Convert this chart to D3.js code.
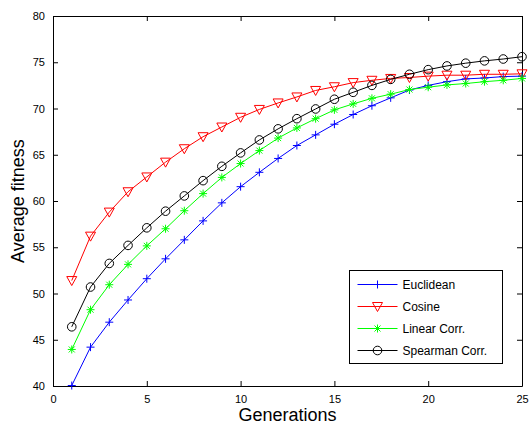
<!DOCTYPE html>
<html>
<head>
<meta charset="utf-8">
<script src="https://cdnjs.cloudflare.com/ajax/libs/d3/7.8.5/d3.min.js"></script>
<style>
  body { margin: 0; background: #fff; }
  text { font-family: "Liberation Sans", Arial, sans-serif; fill: #000; }
</style>
</head>
<body>
<div id="chart-area"></div>
<script>
// data
var generations = d3.range(1, 26);
var euclidean = [40.05, 44.2, 46.9, 49.3, 51.6, 53.75, 55.8, 57.85, 59.8, 61.55, 63.1, 64.6, 66.0, 67.15,
	68.3, 69.35, 70.3, 71.15, 72.0, 72.5, 72.9, 73.2, 73.3, 73.45, 73.5];
var cosine = [51.4, 56.2, 58.8, 61.0, 62.6, 64.2, 65.65, 66.95, 68.0, 69.05, 69.9, 70.6, 71.25, 71.95,
	72.35, 72.8, 73.05, 73.25, 73.35, 73.5, 73.6, 73.6, 73.7, 73.7, 73.75];
var linearCorr = [43.95, 48.25, 50.95, 53.15, 55.15, 57.0, 58.95, 60.8, 62.55, 64.05, 65.45, 66.8, 67.9, 68.9,
	69.85, 70.5, 71.1, 71.55, 72.05, 72.3, 72.55, 72.7, 72.9, 73.05, 73.25];
var spearmanCorr = [46.4, 50.7, 53.25, 55.2, 57.1, 58.9, 60.55, 62.2, 63.75, 65.2, 66.6, 67.8, 68.9, 69.95,
	71.0, 71.75, 72.5, 73.15, 73.7, 74.2, 74.6, 74.9, 75.15, 75.35, 75.6];

var xTicks = [0, 5, 10, 15, 20, 25];
var yTicks = [40, 45, 50, 55, 60, 65, 70, 75, 80];

var series = [
	{name: "Euclidean", values: euclidean, color: "#0000ff", marker: "plus"},
	{name: "Cosine", values: cosine, color: "#ff0000", marker: "triangle"},
	{name: "Linear Corr.", values: linearCorr, color: "#00ff00", marker: "asterisk"},
	{name: "Spearman Corr.", values: spearmanCorr, color: "#000000", marker: "circle"}
];

var margin = {left: 53, right: 8, top: 16, bottom: 38};
var W = 530, H = 424;
var width = W - margin.left - margin.right,
	height = H - margin.top - margin.bottom;

var svg = d3.select("#chart-area").append("svg")
	.attr("width", W)
	.attr("height", H);

var g = svg.append("g")
	.attr("transform", "translate(" + margin.left + "," + margin.top + ")");

//scales
var xScale = d3.scaleLinear().domain([0, 25]).range([0, width]);
var yScale = d3.scaleLinear().domain([40, 80]).range([height, 0]);

//axes, matlab style: ticks pointing inward on all four sides
var tickLen = 5;
var xAxisB = d3.axisBottom(xScale).tickValues(xTicks).tickSizeInner(-tickLen).tickSizeOuter(0).tickPadding(9);
var xAxisT = d3.axisTop(xScale).tickValues(xTicks).tickSizeInner(-tickLen).tickSizeOuter(0).tickFormat("");
var yAxisL = d3.axisLeft(yScale).tickValues(yTicks).tickSizeInner(-tickLen).tickSizeOuter(0).tickPadding(8);
var yAxisR = d3.axisRight(yScale).tickValues(yTicks).tickSizeInner(-tickLen).tickSizeOuter(0).tickFormat("");

function styleAxis(sel) {
	sel.selectAll("path, line").attr("stroke", "#000").attr("stroke-width", 1);
	sel.selectAll("text").attr("font-size", "11px").attr("fill", "#000")
		.style("font-family", "'Liberation Sans', Arial, sans-serif");
}

g.append("g").attr("transform", "translate(0," + height + ")").call(xAxisB).call(styleAxis);
g.append("g").call(xAxisT).call(styleAxis);
g.append("g").call(yAxisL).call(styleAxis);
g.append("g").attr("transform", "translate(" + width + ",0)").call(yAxisR).call(styleAxis);

//axis labels
svg.append("text")
	.attr("x", margin.left + width / 2)
	.attr("y", 421)
	.attr("font-size", "18px")
	.attr("text-anchor", "middle")
	.text("Generations");

svg.append("text")
	.attr("transform", "translate(24," + (margin.top + height / 2) + ") rotate(-90)")
	.attr("font-size", "18px")
	.attr("text-anchor", "middle")
	.text("Average fitness");

//marker drawing
function drawMarker(sel, type, color) {
	if (type === "plus") {
		sel.append("path").attr("d", "M-4,0H4M0,-4V4")
			.attr("stroke", color).attr("stroke-width", 1).attr("fill", "none");
	} else if (type === "triangle") {
		sel.append("path").attr("d", "M-5,-4L5,-4L0,5Z")
			.attr("stroke", color).attr("stroke-width", 1).attr("fill", "none");
	} else if (type === "asterisk") {
		sel.append("path").attr("d", "M-4,0H4M0,-4V4M-3,-3L3,3M-3,3L3,-3")
			.attr("stroke", color).attr("stroke-width", 1).attr("fill", "none");
	} else if (type === "circle") {
		sel.append("circle").attr("r", 4.3)
			.attr("stroke", color).attr("stroke-width", 1).attr("fill", "none");
	}
}

var line = d3.line()
	.x(function(d, i) { return xScale(generations[i]); })
	.y(function(d) { return yScale(d); });

var plot = g.append("g");

series.forEach(function(s) {
	plot.append("path")
		.attr("d", line(s.values))
		.attr("fill", "none")
		.attr("stroke", s.color)
		.attr("stroke-width", 1);

	s.values.forEach(function(v, i) {
		var m = plot.append("g")
			.attr("transform", "translate(" + xScale(generations[i]) + "," + yScale(v) + ")");
		drawMarker(m, s.marker, s.color);
	});
});

//legend
var legend = svg.append("g").attr("transform", "translate(349.5,270.5)");
legend.append("rect")
	.attr("width", 153)
	.attr("height", 93)
	.attr("fill", "#fff")
	.attr("stroke", "#000")
	.attr("stroke-width", 1);

series.forEach(function(s, i) {
	var row = legend.append("g").attr("transform", "translate(0," + (14 + i * 22) + ")");
	row.append("line")
		.attr("x1", 8).attr("x2", 48)
		.attr("stroke", s.color).attr("stroke-width", 1);
	var m = row.append("g").attr("transform", "translate(28,0)");
	drawMarker(m, s.marker, s.color);
	row.append("text")
		.attr("x", 53)
		.attr("y", 4)
		.attr("font-size", "12px")
		.text(s.name);
});
</script>
</body>
</html>
